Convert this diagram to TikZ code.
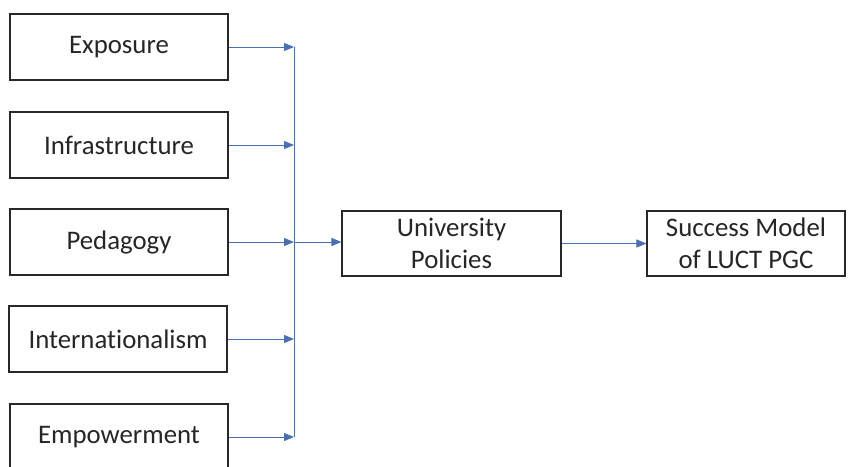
\documentclass[tikz,border=0pt]{standalone}
\usepackage{fontspec}
\setmainfont[Ligatures={NoCommon}]{Carlito}
\usetikzlibrary{arrows.meta}
\definecolor{linkblue}{RGB}{74,112,180}
\definecolor{boxgray}{RGB}{40,40,40}
\begin{document}
\begin{tikzpicture}[x=1pt,y=-1pt,
  factor/.style={draw=boxgray,line width=1.1pt,minimum width=218pt,minimum height=66pt,
    inner sep=0pt,align=center,font=\fontsize{26.8}{32}\selectfont,text=black!85},
  link/.style={draw=linkblue,line width=1pt,-{Triangle[length=10pt,width=8pt]}},
  bus/.style={draw=linkblue,line width=1pt}]
\useasboundingbox (0,0) rectangle (854,466);
\fill[white] (0,0) rectangle (854,466);
\node[factor] (ex) at (119,47) {Exposure};
\node[factor] (inf) at (119,145) {Infrastructure};
\node[factor] (ped) at (119,242) {Pedagogy};
\node[factor] (int) at (118,339) {Internationalism};
\node[factor] (emp) at (119,437) {Empowerment};
\node[factor,minimum width=219pt,minimum height=65pt] (uni) at (451.5,243.5) {University\\Policies};
\node[factor,minimum width=198pt,minimum height=65pt] (suc) at (746,243.5) {Success Model\\of LUCT PGC};
\coordinate (j1) at (294,47);
\coordinate (j2) at (294,145);
\coordinate (j3) at (294,242);
\coordinate (j4) at (294,339);
\coordinate (j5) at (294,437);
\draw[bus] (j1) -- (j5);
\draw[link] (ex.east) -- (j1);
\draw[link] (inf.east) -- (j2);
\draw[link] (ped.east) -- (j3);
\draw[link] (int.east) -- (j4);
\draw[link] (emp.east) -- (j5);
\draw[link] (j3) -- (uni.west |- j3);
\draw[link] (uni.east) -- (suc.west);
\end{tikzpicture}
\end{document}
